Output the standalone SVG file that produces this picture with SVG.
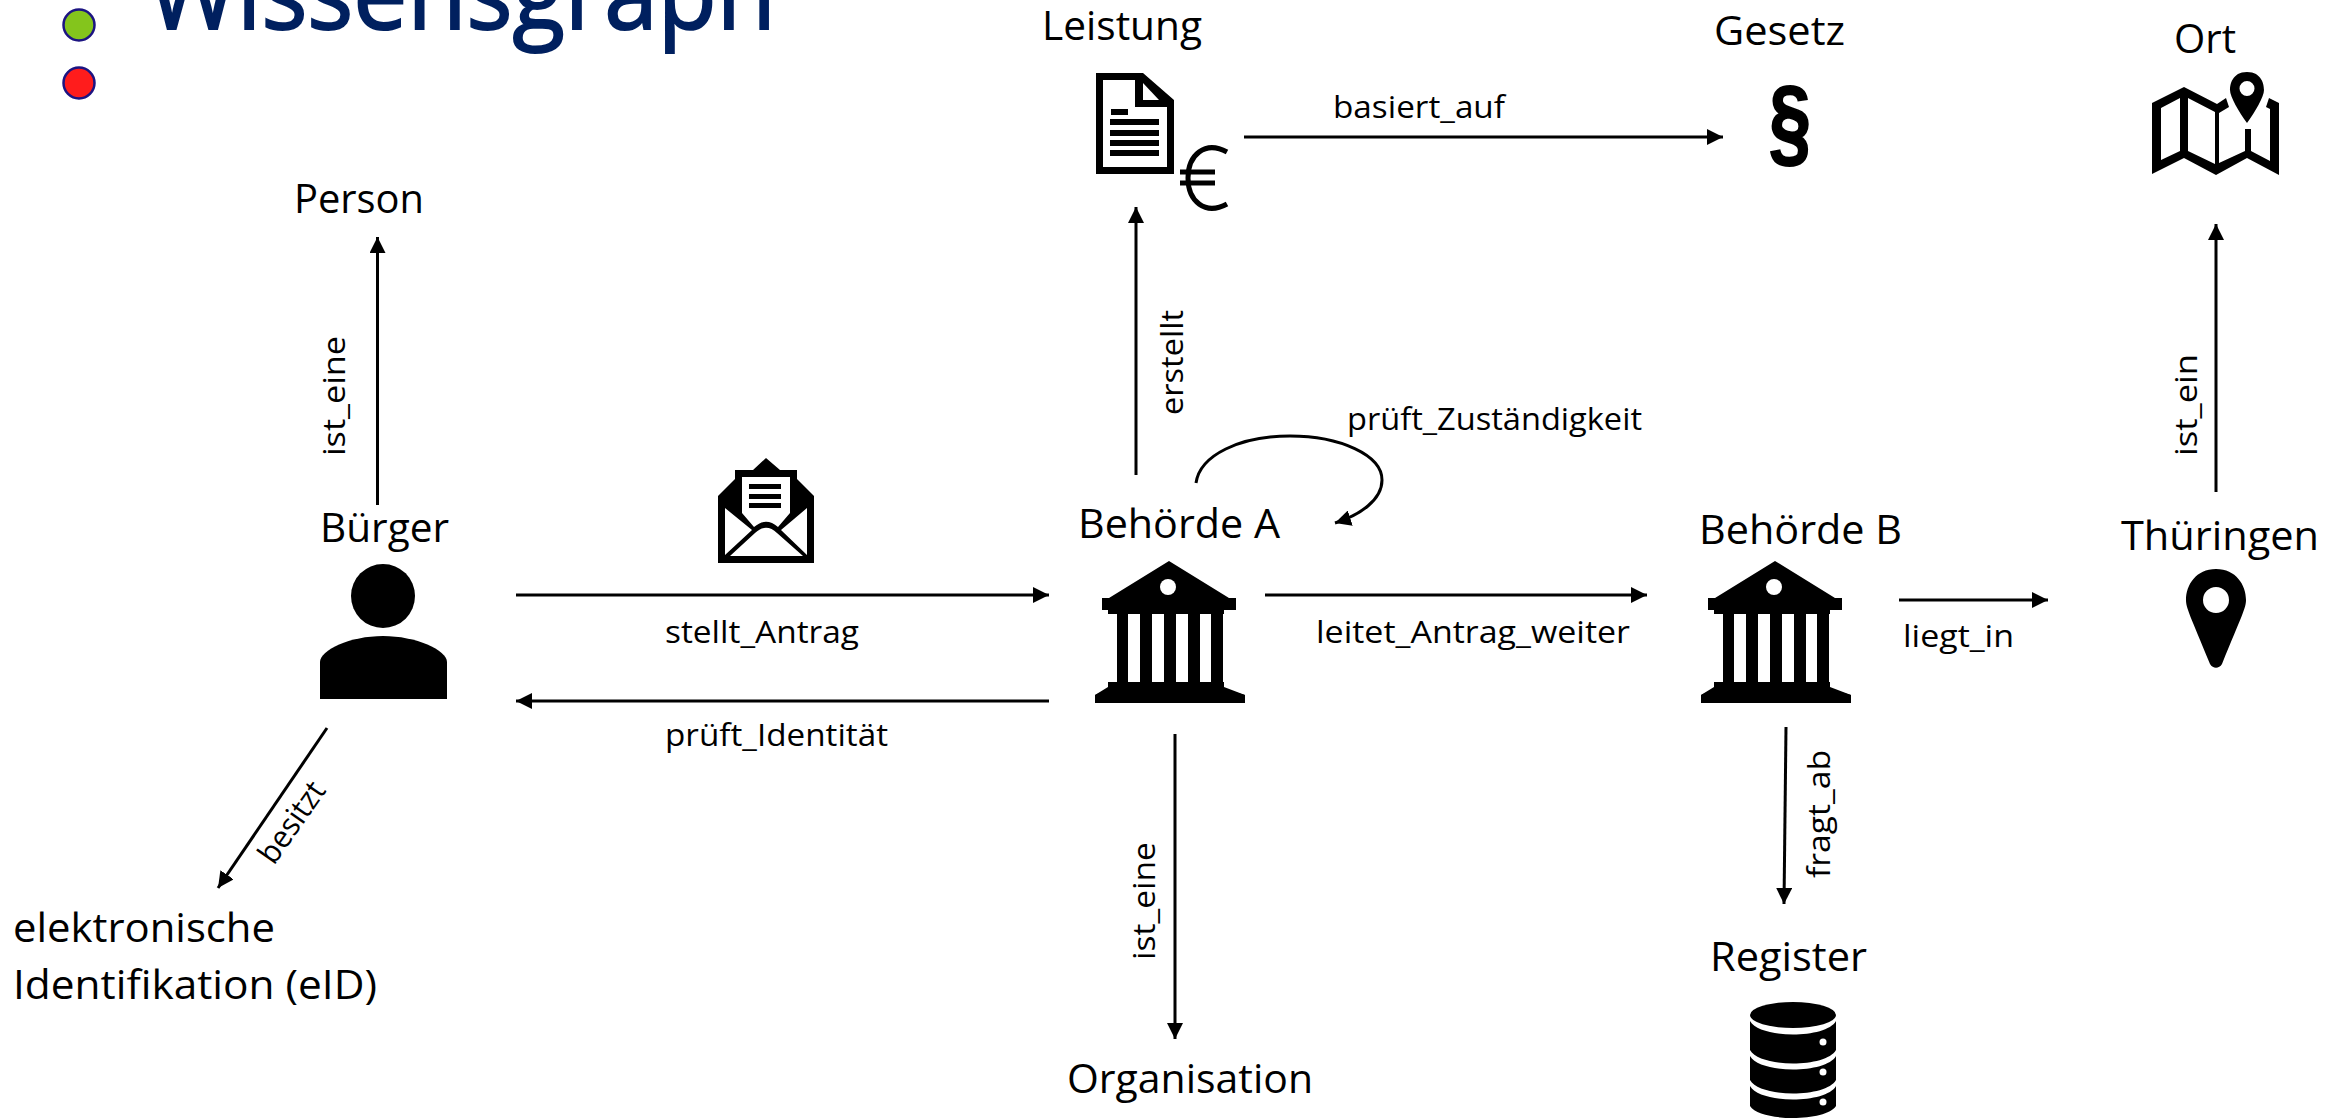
<svg xmlns="http://www.w3.org/2000/svg" width="2344" height="1118" viewBox="0 0 2344 1118">
<style>
text{font-family:"Open Sans","Noto Sans",sans-serif;fill:#000}
.n{font-size:40px}
.l{font-size:31px}
.c{fill:none;stroke:#000;stroke-width:3}
.a{marker-end:url(#ah)}
</style>
<defs>
<marker id="ah" markerUnits="userSpaceOnUse" markerWidth="18" markerHeight="16" refX="16" refY="8" orient="auto"><path d="M0 0L16 8L0 16Z" fill="#000"/></marker>
<g id="bank"><path d="M74 0L134 37H141V49H129V53H128V121H129V126L150 134V142H0V134L13 126V121H22V53H13V49H7V37H14Z" fill="#000"/><path d="M13 121H129V128L150 134H0L13 128Z" fill="#000"/><circle cx="73" cy="26" r="8" fill="#fff"/><path d="M33 53H45V121H33ZM57 53H69V121H57ZM81 53H93V121H81ZM105 53H116V121H105Z" fill="#fff"/></g>
</defs>
<rect width="2344" height="1118" fill="#fff"/>
<g id="title"><text x="148" y="29" font-size="100" style="fill:#00205f;stroke:#00205f;stroke-width:2" textLength="628" lengthAdjust="spacingAndGlyphs">Wissensgraph</text></g>
<g id="dots"><circle cx="79" cy="25" r="15.500" fill="#84c51c" stroke="#1c1482" stroke-width="2.500"/><circle cx="79" cy="83" r="15.500" fill="#ff1c1c" stroke="#1c1482" stroke-width="2.500"/></g>
<g id="connectors">
<path class="c a" d="M377.500 505V237"/>
<path class="c a" d="M327 728L218 888"/>
<path class="c a" d="M516 595H1049"/>
<path class="c a" d="M1049 701H516"/>
<path class="c a" d="M1136 475V207"/>
<path class="c a" d="M1244 137H1723"/>
<path class="c a" d="M1196 483C1200 455 1240 436 1290 436C1340 436 1382 455 1382 480C1382 500 1360 515 1335 523"/>
<path class="c a" d="M1265 595H1647"/>
<path class="c a" d="M1175 734V1039"/>
<path class="c a" d="M1786 727L1784 904"/>
<path class="c a" d="M1899 600H2048"/>
<path class="c a" d="M2216 492V224"/>
</g>
<g id="labels">
<text class="l" transform="translate(345 456) rotate(-90)" textLength="120" lengthAdjust="spacingAndGlyphs">ist_eine</text>
<text class="l" transform="translate(274 866) rotate(-55)" textLength="92" lengthAdjust="spacingAndGlyphs">besitzt</text>
<text class="l" x="665" y="643" textLength="194" lengthAdjust="spacingAndGlyphs">stellt_Antrag</text>
<text class="l" x="665" y="746" textLength="223" lengthAdjust="spacingAndGlyphs">prüft_Identität</text>
<text class="l" transform="translate(1183 415) rotate(-90)" textLength="105" lengthAdjust="spacingAndGlyphs">erstellt</text>
<text class="l" x="1333" y="118" textLength="172" lengthAdjust="spacingAndGlyphs">basiert_auf</text>
<text class="l" x="1347" y="430" textLength="295" lengthAdjust="spacingAndGlyphs">prüft_Zuständigkeit</text>
<text class="l" x="1316" y="643" textLength="314" lengthAdjust="spacingAndGlyphs">leitet_Antrag_weiter</text>
<text class="l" transform="translate(1155 960) rotate(-90)" textLength="118" lengthAdjust="spacingAndGlyphs">ist_eine</text>
<text class="l" transform="translate(1830 878) rotate(-90)" textLength="128" lengthAdjust="spacingAndGlyphs">fragt_ab</text>
<text class="l" x="1903" y="647" textLength="111" lengthAdjust="spacingAndGlyphs">liegt_in</text>
<text class="l" transform="translate(2197 456) rotate(-90)" textLength="102" lengthAdjust="spacingAndGlyphs">ist_ein</text>
</g>
<g id="person"><text class="n" x="294" y="213" textLength="130" lengthAdjust="spacingAndGlyphs">Person</text></g>
<g id="buerger"><text class="n" x="320" y="542" textLength="129" lengthAdjust="spacingAndGlyphs">Bürger</text>
<circle cx="383" cy="596" r="32" fill="#000"/><path d="M320 699V662C320 650 350 636 383 636C416 636 447 650 447 662V699Z" fill="#000"/></g>
<g id="eid"><text class="n" x="13" y="942" textLength="262" lengthAdjust="spacingAndGlyphs">elektronische</text><text class="n" x="13" y="999" textLength="364" lengthAdjust="spacingAndGlyphs">Identifikation (eID)</text></g>
<g id="antrag"><path d="M718 563V496L735 479V470H753L766 458L780 470H797V479L814 496V563Z" fill="#000"/><path d="M742 477H790V513L778 527C770 520 762 520 754 527L742 513Z" fill="#fff"/><path d="M749 484H781V489H749ZM749 494H781V499H749ZM749 503H781V508H749Z" fill="#000"/><path d="M725 508L752 530L725 555ZM807 508L781 530L807 555ZM730 556L755 533C762 526 770 526 777 533L803 556Z" fill="#fff"/></g>
<g id="leistung"><text class="n" x="1042" y="40" textLength="160" lengthAdjust="spacingAndGlyphs">Leistung</text>
<path fill-rule="evenodd" d="M1096 73H1143L1174 100V174H1096ZM1103 80V167H1167V107H1135V80Z" fill="#000"/><path d="M1143 83L1159 100H1143Z" fill="#fff"/><path d="M1111 109H1128V115H1111ZM1110 119H1159V125H1110ZM1110 130H1159V136H1110ZM1110 140H1159V146H1110ZM1110 150H1159V156H1110Z" fill="#000"/>
<path d="M1227 152C1205 140 1188 155 1188 178C1188 201 1205 216 1227 204" fill="none" stroke="#000" stroke-width="5"/><path d="M1180 172H1215M1180 183H1215" stroke="#000" stroke-width="5"/></g>
<g id="gesetz"><text class="n" x="1714" y="45" textLength="131" lengthAdjust="spacingAndGlyphs">Gesetz</text><text x="1769" y="155" font-size="98" font-weight="700" textLength="42" lengthAdjust="spacingAndGlyphs" style="font-family:'Liberation Sans',sans-serif;stroke:#000;stroke-width:2">§</text></g>
<g id="ort"><text class="n" x="2174" y="53" textLength="62" lengthAdjust="spacingAndGlyphs">Ort</text>
<path d="M2152 174V103L2184 87L2217 104L2226 98L2229 107L2219 113V163L2245 151V129H2251V151L2270 161V109L2266 107L2269 98L2279 103V175L2247 158L2216 175L2184 158ZM2161 108V160L2180 151V98ZM2188 98V151L2215 164V112Z" fill="#000"/>
<path fill-rule="evenodd" d="M2247 72C2262 72 2264 85 2264 90C2264 97 2255 112 2247 123C2239 112 2230 97 2230 90C2230 85 2232 72 2247 72ZM2247 81A7 7 0 1 0 2247 96A7 7 0 1 0 2247 81Z" fill="#000"/></g>
<g id="behoerde-a"><text class="n" x="1078" y="538" textLength="202" lengthAdjust="spacingAndGlyphs">Behörde A</text><use href="#bank" x="1095" y="561"/></g>
<g id="behoerde-b"><text class="n" x="1699" y="544" textLength="203" lengthAdjust="spacingAndGlyphs">Behörde B</text><use href="#bank" x="1701" y="561"/></g>
<g id="thueringen"><text class="n" x="2121" y="550" textLength="198" lengthAdjust="spacingAndGlyphs">Thüringen</text>
<path fill-rule="evenodd" d="M2216 569C2236 569 2246 585 2246 600C2246 608 2242 615 2222 664C2219 669 2213 669 2210 664C2190 615 2186 608 2186 600C2186 585 2196 569 2216 569ZM2216 587A13 13 0 1 0 2216 613A13 13 0 1 0 2216 587Z" fill="#000"/></g>
<g id="organisation"><text class="n" x="1067" y="1093" textLength="246" lengthAdjust="spacingAndGlyphs">Organisation</text></g>
<g id="register"><text class="n" x="1710" y="971" textLength="157" lengthAdjust="spacingAndGlyphs">Register</text>
<ellipse cx="1793" cy="1015" rx="43" ry="13" fill="#000"/>
<path d="M1750 1021C1760 1039 1826 1039 1836 1021V1050C1826 1068 1760 1068 1750 1050ZM1750 1056C1760 1074 1826 1074 1836 1056V1080C1826 1098 1760 1098 1750 1080ZM1750 1086C1760 1104 1826 1104 1836 1086V1106C1826 1122 1760 1122 1750 1106Z" fill="#000"/>
<circle cx="1823" cy="1042" r="3.500" fill="#fff"/><circle cx="1823" cy="1072" r="3.500" fill="#fff"/><circle cx="1823" cy="1102" r="3.500" fill="#fff"/></g>
</svg>
